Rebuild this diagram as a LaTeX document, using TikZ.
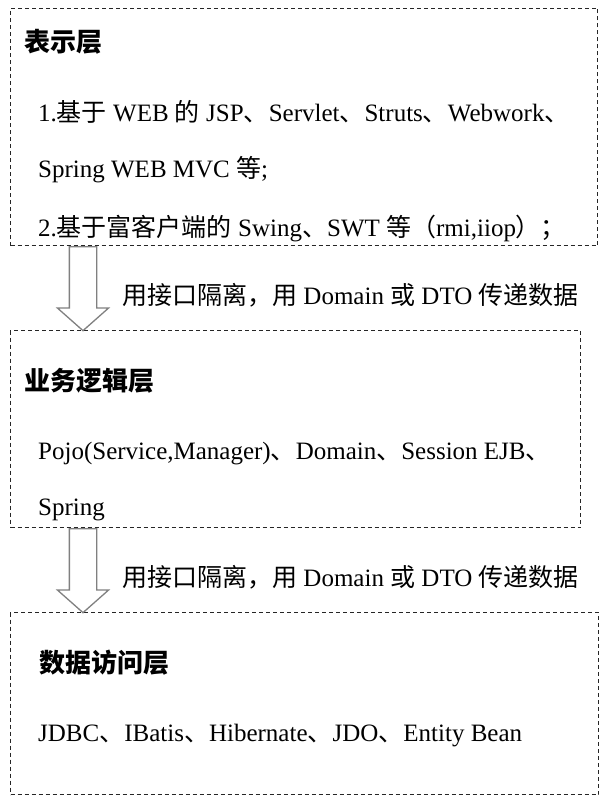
\documentclass[tikz,border=0pt]{standalone}
\usepackage{fontspec}
\setmainfont{Liberation Serif}
\newfontfamily\cjk{Noto Sans CJK SC}
\usetikzlibrary{shapes.arrows}
\newcommand\zh[1]{{\cjk #1}}
\begin{document}
\begin{tikzpicture}[x=1pt,y=-1pt,
    layer/.style={draw=black!85,line width=1pt,dash pattern=on 4pt off 3pt,anchor=north west,inner sep=0pt},
    title/.style={anchor=base west,inner sep=0pt,font=\fontsize{26}{30}\selectfont\bfseries},
    txt/.style={anchor=base west,inner sep=0pt,font=\fontsize{25}{30}\selectfont},
    hollow/.style={single arrow,draw=black!50,line width=1.3pt,fill=white,rotate=-90,anchor=tail,
        inner xsep=0pt,inner ysep=13pt,minimum width=50pt,minimum height=84pt,
        single arrow head extend=12pt,single arrow tip angle=97}]
    \useasboundingbox (0,0) rectangle (604,805);
    \node[layer,minimum width=587pt,minimum height=237pt] (pres) at (10,8) {};
    \node[layer,minimum width=570pt,minimum height=197pt] (biz) at (10,330) {};
    \node[layer,minimum width=588pt,minimum height=182pt] (dao) at (10,612) {};
    \node[title] (presT) at (24,52) {\zh{表示层}};
    \node[txt] (pres1) at (38,122) {1.\zh{基于} WEB \zh{的} JSP\zh{、}Servlet\zh{、}Struts\zh{、}Webwork\zh{、}};
    \node[txt] (pres2) at (38,178) {Spring WEB MVC \zh{等};};
    \node[txt] (pres3) at (38,236) {2.\zh{基于富客户端的} Swing\zh{、}SWT \zh{等（}rmi,iiop\zh{）；}};
    \node[hollow] (arr1) at (83,0 |- pres.south) {};
    \node[txt] (lab1) at (122,304) {\zh{用接口隔离，用} Domain \zh{或} DTO \zh{传递数据}};
    \node[title] (bizT) at (24,390) {\zh{业务逻辑层}};
    \node[txt] (biz1) at (38,459) {Pojo(Service,Manager)\zh{、}Domain\zh{、}Session EJB\zh{、}};
    \node[txt] (biz2) at (38,515) {Spring};
    \node[hollow] (arr2) at (83,0 |- biz.south) {};
    \node[txt] (lab2) at (122,586) {\zh{用接口隔离，用} Domain \zh{或} DTO \zh{传递数据}};
    \node[title] (daoT) at (39,672) {\zh{数据访问层}};
    \node[txt] (dao1) at (38,741) {JDBC\zh{、}IBatis\zh{、}Hibernate\zh{、}JDO\zh{、}Entity Bean};
\end{tikzpicture}
\end{document}
